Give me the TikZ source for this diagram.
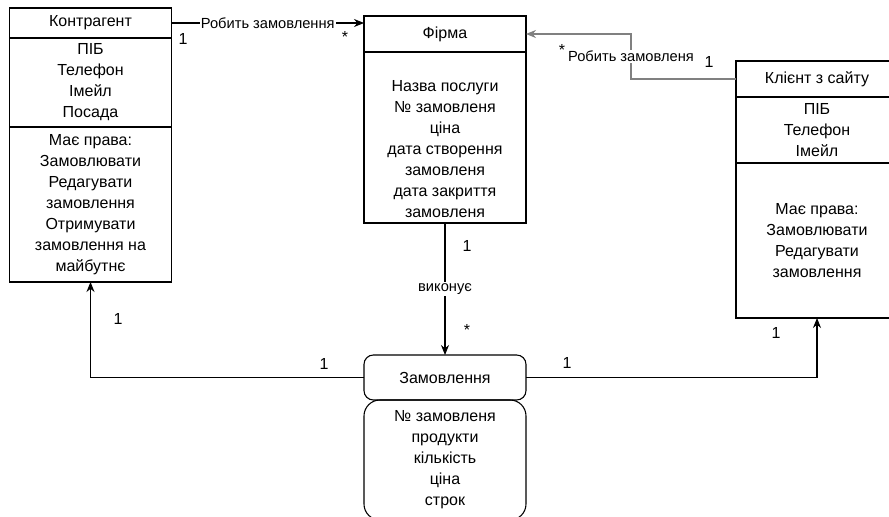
\documentclass[tikz,border=0pt]{standalone}
\usepackage{fontspec}
\setmainfont{Liberation Sans}
\usetikzlibrary{arrows.meta,positioning}
\definecolor{linkgray}{RGB}{128,128,128}

\begin{document}
\begin{tikzpicture}[x=0.75pt, y=-0.75pt, node distance=0pt, >={Stealth[length=7.5pt,width=6pt]},
  every node/.style={align=center, font=\fontsize{12}{15.75}\selectfont},
  cls/.style={draw, line width=0.8pt, outer sep=0pt, inner sep=0pt, minimum width=121.5pt, anchor=north},
  lbl/.style={fill=white, inner sep=1pt, font=\fontsize{11}{13}\selectfont},
  mult/.style={inner sep=0pt},
  link/.style={->, line width=0.8pt}]
\useasboundingbox[fill=white] (0,0) rectangle (889,517);

% Контрагент
\node (kh) [cls, minimum height=22.5pt] at (90.5,8) {Контрагент};
\node (kattr) [cls, minimum height=66.75pt, below=of kh] {ПІБ\\Телефон\\Імейл\\Посада};
\node (kmeth) [cls, minimum height=116.25pt, below=of kattr] {Має права:\\Замовлювати\\Редагувати\\замовлення\\Отримувати\\замовлення на\\майбутнє};

% Фірма
\node (firmh) [cls, minimum height=27pt] at (445,16) {Фірма};
\node (firmbody) [cls, minimum height=128.25pt, text height=124pt, text depth=4.25pt, below=of firmh] {Назва послуги\\№ замовленя\\ціна\\дата створення\\замовленя\\дата закриття\\замовленя};

% Клієнт з сайту
\node (clienth) [cls, minimum height=27pt] at (817,61) {Клієнт з сайту};
\node (clientattr) [cls, minimum height=49.5pt, below=of clienth] {ПІБ\\Телефон\\Імейл};
\node (clientmeth) [cls, minimum height=116.25pt, below=of clientattr] {Має права:\\Замовлювати\\Редагувати\\замовлення};

% Замовлення
\node (orderh) [cls, rounded corners=7pt, minimum height=33.75pt] at (445,355) {Замовлення};
\node (orderbody) [cls, rounded corners=12pt, minimum height=90pt, below=of orderh] {№ замовленя\\продукти\\кількість\\ціна\\строк};

% connectors
\draw[link] (kh.east) -- (kh.east -| firmh.west) node[lbl, midway] {Робить замовлення};
\draw[link, draw=linkgray] (clienth.west) -- ++(-105,0) |- (firmh.east) node[lbl, pos=0.25] {Робить замовленя};
\draw[link] (firmbody.south) -- (orderh.north) node[lbl, midway] {виконує};
\draw[link] (orderh.west) -| (kmeth.south);
\draw[link] (orderh.east) -| (clientmeth.south);

% multiplicities
\node (kfirm1) [mult] at (183,39) {1};
\node (kfirmstar) [mult] at (345,37) {*};
\node (clientfirmstar) [mult] at (562,50) {*};
\node (clientfirm1) [mult] at (709,62) {1};
\node (firmorder1) [mult] at (467,246) {1};
\node (firmorderstar) [mult] at (467,330) {*};
\node (orderk1) [mult] at (118,319) {1};
\node (korder1) [mult] at (324,364) {1};
\node (orderclient1) [mult] at (567,363) {1};
\node (clientorder1) [mult] at (776,333) {1};
\end{tikzpicture}
\end{document}
